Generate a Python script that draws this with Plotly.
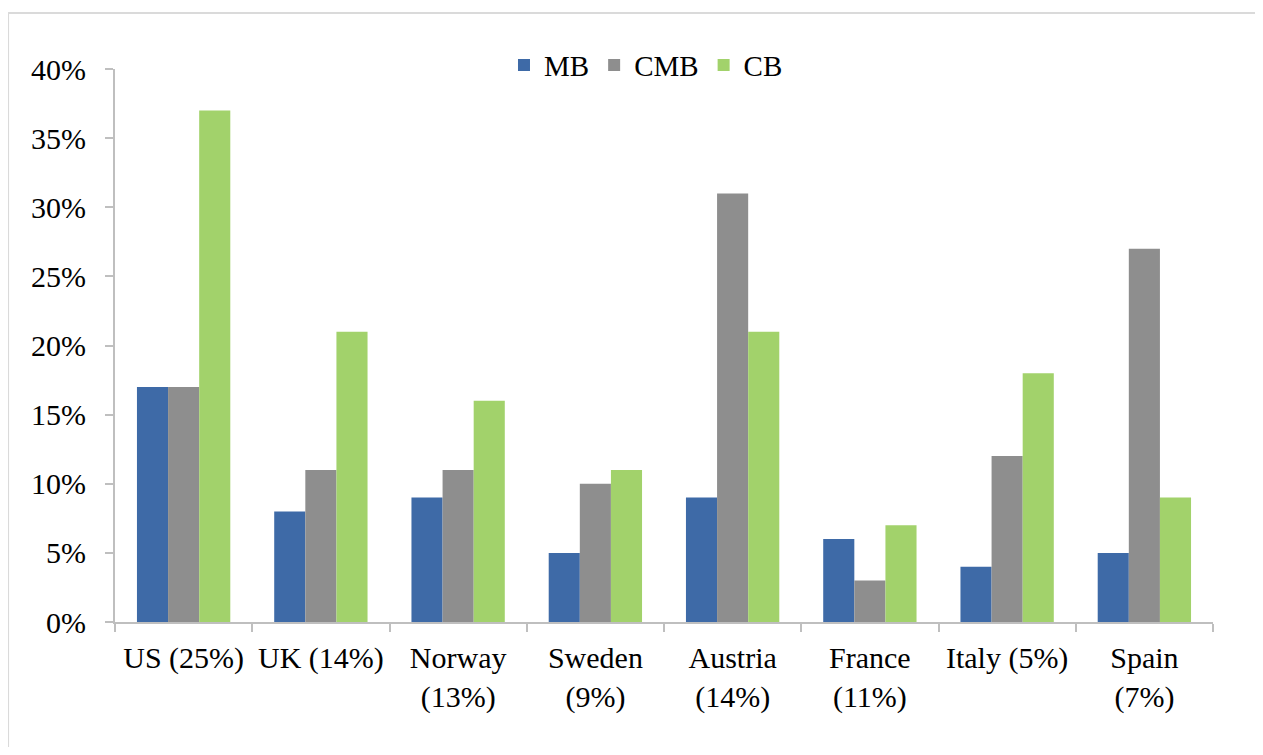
import plotly.graph_objects as go

categories = ["US (25%)", "UK (14%)", "Norway<br>(13%)", "Sweden<br>(9%)",
              "Austria<br>(14%)", "France<br>(11%)", "Italy (5%)", "Spain<br>(7%)"]
mb = [17, 8, 9, 5, 9, 6, 4, 5]
cmb = [17, 11, 11, 10, 31, 3, 12, 27]
cb = [37, 21, 16, 11, 21, 7, 18, 9]
y_ticks = [0, 5, 10, 15, 20, 25, 30, 35, 40]
y_tick_labels = [f"{v}%" for v in y_ticks]

series = [("MB", mb, "#3E6AA7"), ("CMB", cmb, "#8E8E8E"), ("CB", cb, "#A2D26B")]

fig = go.Figure()
for name, vals, color in series:
    fig.add_trace(go.Bar(x=categories, y=vals, name=name, marker=dict(color=color, line_width=0)))

FONT = "Liberation Serif, Times New Roman, serif"
frame = dict(color="#DADADA", width=2)
fig.update_layout(
    width=1247, height=739,
    barmode="group", bargap=0.32, bargroupgap=0,
    plot_bgcolor="white", paper_bgcolor="white",
    font=dict(family=FONT, size=30, color="black"),
    margin=dict(l=107, r=42, t=61, b=125, autoexpand=False),
    showlegend=True,
    legend=dict(orientation="h", x=0.4836, xanchor="center", y=1.007, yanchor="middle",
                font=dict(size=29), tracegroupgap=0, bgcolor="rgba(0,0,0,0)"),
    xaxis=dict(showline=True, linecolor="#BFBFBF", linewidth=2, ticks="outside",
               tickson="boundaries", ticklen=8, tickcolor="#BFBFBF", tickwidth=2,
               showgrid=False, automargin=False, ticklabelstandoff=8),
    yaxis=dict(range=[0, 40], tickvals=y_ticks, ticktext=y_tick_labels,
               showline=True, linecolor="#BFBFBF", linewidth=2, ticks="outside",
               ticklen=8, tickcolor="#BFBFBF", tickwidth=2, showgrid=False,
               zeroline=False, ticklabelstandoff=13, automargin=False),
    shapes=[
        dict(type="line", xref="paper", yref="paper", x0=-0.0974, x1=1.2,
             y0=1.1013, y1=1.1013, line=frame, layer="below"),
        dict(type="line", xref="paper", yref="paper", x0=-0.0974, x1=-0.0974,
             y0=-0.4, y1=1.1013, line=frame, layer="below"),
    ],
)

fig.write_html("out.html")
